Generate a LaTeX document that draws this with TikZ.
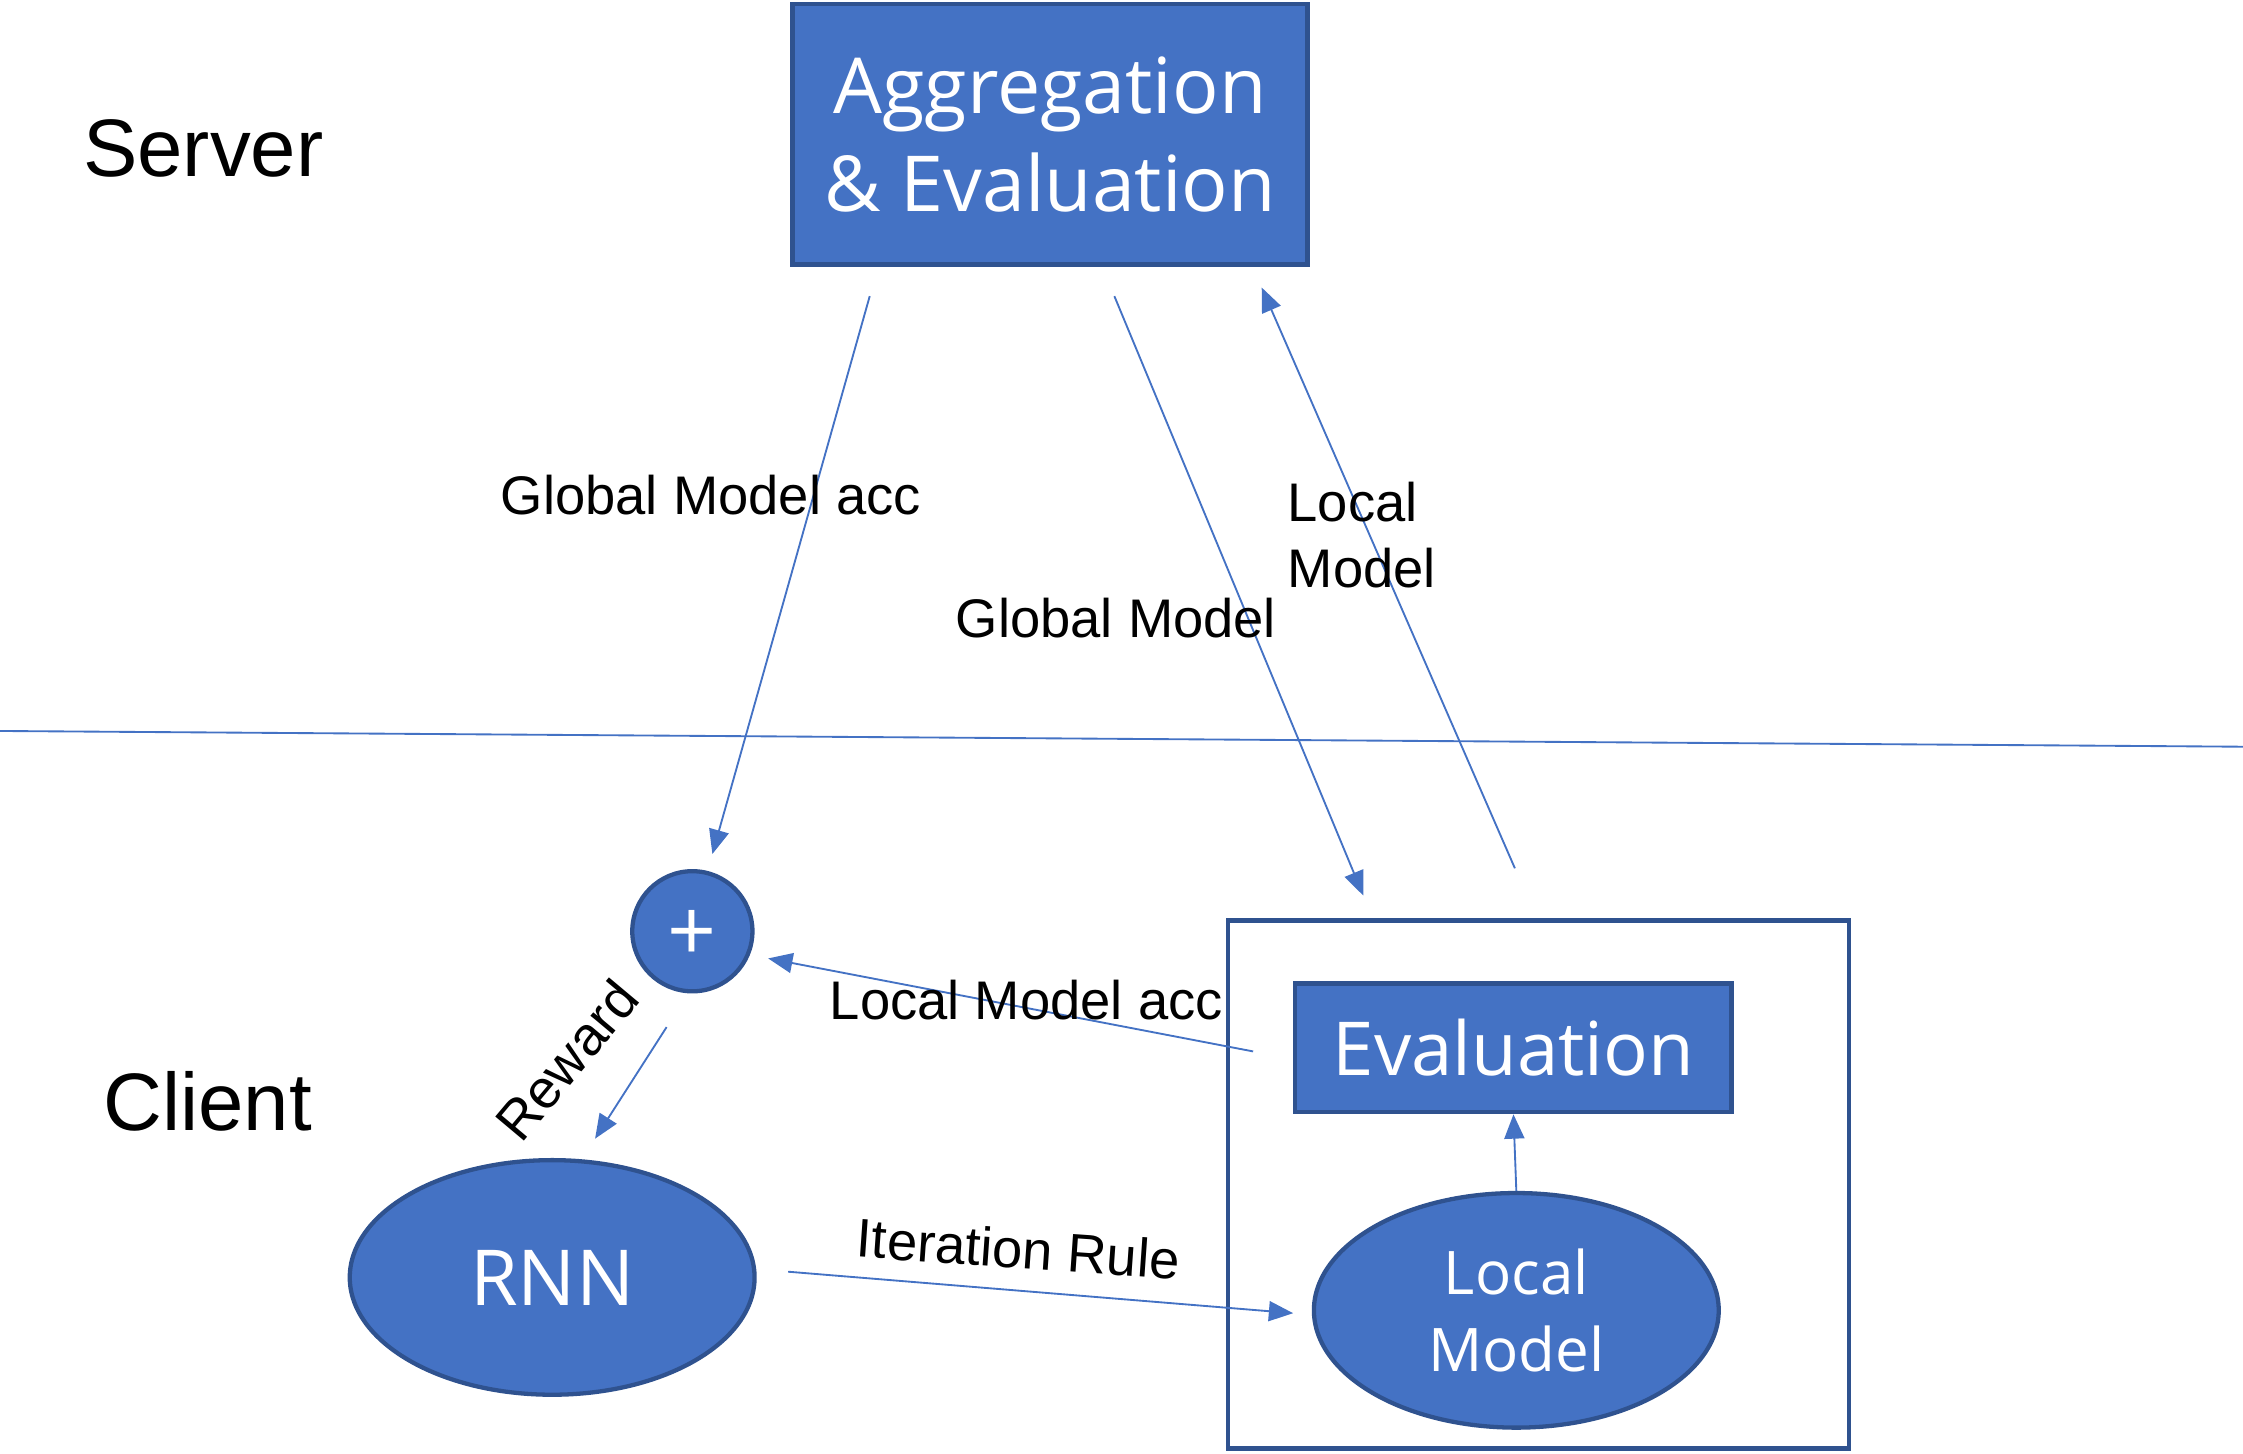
\documentclass[tikz,border=0pt]{standalone}
\usepackage{fontspec}
\setmainfont{Liberation Sans}
\newfontfamily\boxfont{Open Sans}
\usetikzlibrary{arrows.meta,shapes.geometric}
\definecolor{fillblue}{HTML}{4472C4}
\definecolor{edgeblue}{HTML}{2F528F}
\tikzset{
  bluebox/.style={rectangle, fill=fillblue, draw=edgeblue, line width=3pt, text=white, align=center, inner sep=0pt, font=\boxfont},
  blueell/.style={ellipse, fill=fillblue, draw=edgeblue, line width=3pt, text=white, align=center, inner sep=0pt, font=\boxfont},
  arr/.style={draw=fillblue, line width=1.3pt, -{Triangle[length=17pt,width=14pt]}},
  lbl/.style={text=black, inner sep=0pt, font=\fontsize{38}{46}\selectfont},
  side/.style={text=black, inner sep=0pt, font=\fontsize{57}{68}\selectfont}
}
\begin{document}
\begin{tikzpicture}[x=1pt,y=-1pt]
\useasboundingbox (0,0) rectangle (1568,1016);
% divider
\coordinate (divL) at (0,511);
\coordinate (divR) at (1568,522);
\draw[fillblue, line width=1.3pt] (divL) -- (divR);
% side labels
\node[side, anchor=west] (server) at (58,104) {Server};
\node[side, anchor=west] (client) at (72,770) {Client};
% server box
\node[bluebox, minimum width=360pt, minimum height=182pt, font=\boxfont\fontsize{54}{68}\selectfont] (agg) at (734,94) {Aggregation\\\& Evaluation};
% client box
\node[rectangle, draw=edgeblue, line width=3pt, minimum width=434pt, minimum height=369pt] (cbox) at (1075.5,828) {};
\node[bluebox, minimum width=305pt, minimum height=90pt, font=\boxfont\fontsize{52}{62}\selectfont] (eval) at (1058,732.5) {Evaluation};
\node[blueell, minimum width=283pt, minimum height=164pt, font=\boxfont\fontsize{42}{54}\selectfont] (local) at (1060,916) {Local\\Model};
\node[blueell, minimum width=283pt, minimum height=164pt, font=\boxfont\fontsize{54}{64}\selectfont] (rnn) at (386,893) {RNN};
\node[circle, fill=fillblue, draw=edgeblue, line width=3pt, minimum size=84pt, inner sep=0pt] (plus) at (484,651) {};
\node[text=white, inner sep=0pt, font=\boxfont\fontsize{60}{60}\selectfont] (plussign) at ([yshift=-3pt]plus.center) {+};
% connector end points
\coordinate (gaccS) at (608,207);
\coordinate (gaccE) at (498,597);
\coordinate (gmS) at (779,207);
\coordinate (gmE) at (953,626);
\coordinate (lmS) at (1059,607);
\coordinate (lmE) at (882,201);
\coordinate (laccS) at (876,735);
\coordinate (laccE) at (537,670);
\coordinate (rwS) at (466,718);
\coordinate (rwE) at (416,796);
\coordinate (itS) at (551,889);
\coordinate (itE) at (904,918);
% connectors
\draw[arr] (gaccS) -- (gaccE);
\draw[arr] (gmS) -- (gmE);
\draw[arr] (lmS) -- (lmE);
\draw[arr] (laccS) -- (laccE);
\draw[arr] (rwS) -- (rwE);
\draw[arr] (itS) -- (itE);
\draw[arr] (local.north) -- (eval.south);
% labels
\node[lbl, anchor=west] (lgacc) at (350,346) {Global Model acc};
\node[lbl, anchor=west] (lgm) at (668,432) {Global Model};
\node[lbl, anchor=west, align=left] (llm) at (900,374) {Local\\Model};
\node[lbl, anchor=west] (llacc) at (580,699) {Local Model acc};
\node[lbl, rotate=50] (lrw) at (396,741) {Reward};
\node[lbl, rotate=-4] (lit) at (712,873) {Iteration Rule};
\end{tikzpicture}
\end{document}
